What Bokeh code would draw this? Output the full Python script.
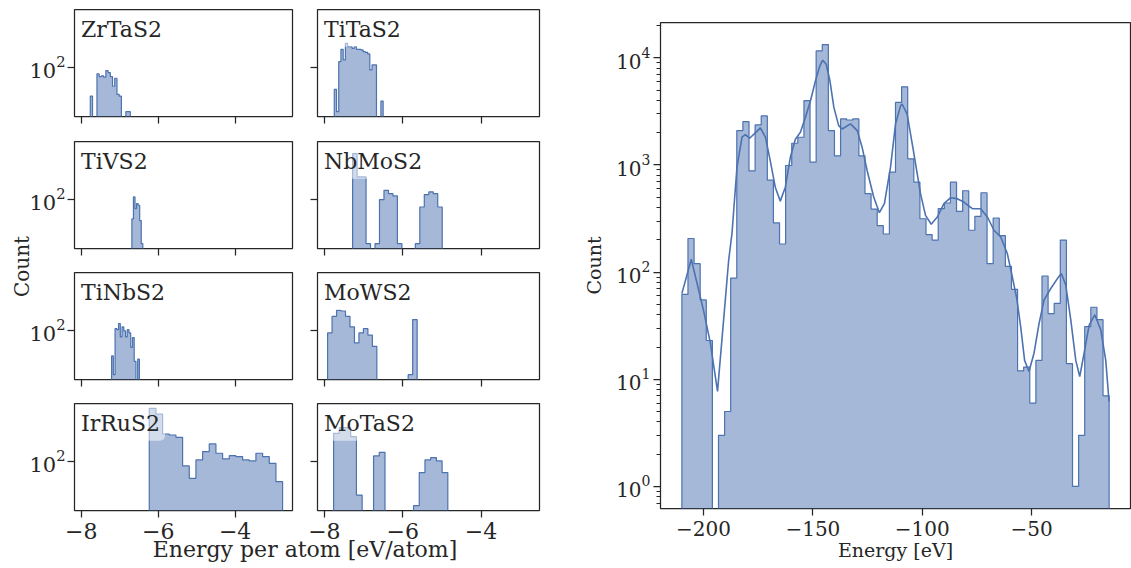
import numpy as np
from bokeh.plotting import figure
from bokeh.models import Range1d, FixedTicker, Label
from bokeh.layouts import row, column
from bokeh.embed import file_html
from bokeh.resources import INLINE

FONT = "DejaVu Serif"
INK = "#262626"
BLUE = "#4c72b0"

# ---------------- left: energy per atom, one histogram per system ----------------
systems = ["ZrTaS2", "TiTaS2", "TiVS2", "NbMoS2", "TiNbS2", "MoWS2", "IrRuS2", "MoTaS2"]
bin_lo = [-7.765, -7.747, -6.684, -7.279, -7.211, -7.918, -6.232, -7.765]
bin_hi = [-6.725, -6.500, -6.400, -4.992, -6.488, -5.632, -2.766, -4.849]
counts_ZrTaS2 = [5, 0, 0, 50, 38, 41, 36, 71, 58, 38, 14, 32, 6, 5, 0, 0, 1, 1]
counts_TiTaS2 = [10, 1, 180, 649, 214, 1208, 855, 855, 720, 855, 649, 649, 605, 509, 475, 400, 76, 128, 128, 0, 0, 3]
counts_TiVS2 = [13, 128, 38, 64, 54, 11, 1]
counts_NbMoS2 = [11400, 1016, 1016, 1, 0, 1, 97, 255, 180, 142, 1, 0, 0, 0, 1, 45, 163, 214, 180, 45]
counts_TiNbS2 = [7, 1, 119, 107, 200, 50, 142, 94, 50, 107, 76, 17, 47, 4, 0, 5]
counts_MoWS2 = [76, 428, 794, 741, 428, 142, 27, 76, 119, 60, 19, 0, 0, 0, 0, 0, 0, 0, 1, 303]
counts_IrRuS2 = [24400, 13500, 1706, 1538, 1208, 62, 17, 115, 273, 605, 230, 128, 180, 163, 115, 104, 230, 163, 81, 12]
counts_MoTaS2 = [1828, 3290, 3290, 1294, 3, 0, 0, 174, 255, 0, 0, 0, 0, 0, 1, 31, 115, 147, 104, 31]
sys_counts = [counts_ZrTaS2, counts_TiTaS2, counts_TiVS2, counts_NbMoS2,
              counts_TiNbS2, counts_MoWS2, counts_IrRuS2, counts_MoTaS2]
left_xticks = [-8, -6, -4]
left_yticks = [100]

# ---------------- right: total energy histogram + KDE ----------------
total_lo, total_hi = -209.9, -14.55
total_counts = [62, 206, 120, 55, 23, 0, 3, 5, 88, 2094,
                2540, 883, 2366, 2870, 722, 288, 183, 989, 1596, 1815,
                3981, 1062, 11610, 13300, 2094, 1218, 2690, 2630, 2690, 1218,
                540, 388, 272, 227, 857, 3840, 5370, 1142, 692, 315,
                224, 199, 391, 442, 692, 369, 575, 246, 331, 551,
                120, 320, 219, 113, 69, 12, 13, 6, 15, 92,
                41, 51, 199, 14, 1, 3, 31, 47, 36, 7]
kde_energy = [-209.9, -205.6, -200.0, -196.9, -193.6, -190.8, -188.5, -187.0, -184.7, -182.4,
              -180.9, -178.9, -176.8, -174.0, -171.7, -169.5, -167.2, -164.9, -162.6, -160.3,
              -158.0, -155.7, -153.4, -151.1, -148.8, -146.8, -145.5, -143.9, -142.2, -140.4,
              -138.2, -136.6, -132.8, -129.7, -127.5, -125.2, -122.2, -119.6, -117.3, -114.5,
              -112.2, -109.9, -109.2, -106.9, -103.8, -100.8, -98.5, -95.9, -93.1, -90.1,
              -87.0, -84.0, -81.0, -77.1, -73.3, -70.2, -67.2, -64.1, -61.1, -58.8,
              -56.8, -55.0, -53.2, -51.2, -48.9, -46.6, -44.3, -41.3, -38.2, -36.4,
              -34.4, -32.1, -29.8, -28.0, -26.0, -23.7, -21.1, -18.4, -16.1, -14.6]
kde_count = [63, 132, 44, 22, 7.7, 36, 129, 229, 955, 1817,
             1923, 1778, 1950, 2218, 1817, 1100, 621, 460, 621, 1180,
             1740, 2020, 2790, 3980, 6110, 8430, 9510, 8710, 6110, 3450,
             2330, 2170, 2420, 2094, 1466, 889, 502, 359, 436, 955,
             2420, 3575, 3710, 2990, 1270, 540, 339, 280, 327, 436,
             495, 485, 451, 391, 391, 327, 246, 213, 149, 90,
             57, 31, 15, 11.8, 17.5, 33, 55, 70, 87, 97,
             76, 36, 15, 10.6, 17.5, 32, 40, 29, 15, 6.2]
right_xticks = [-200, -150, -100, -50]
right_yticks = [1, 10, 100, 1000, 10000]


def minus(v):
    return str(v).replace("-", "\u2212")


def padded(lo, hi, frac=0.05):
    s = hi - lo
    return lo - frac * s, hi + frac * s


def step_outline(edges, counts, floor):
    xs, ys = [edges[0]], [floor]
    for i, c in enumerate(counts):
        v = c if c > 0 else floor
        xs += [edges[i], edges[i + 1]]
        ys += [v, v]
    xs.append(edges[-1])
    ys.append(floor)
    return xs, ys


def style(p, x_ticks, y_ticks, x_labels, y_labels, xfs, yfs, minor_y=None):
    p.outline_line_color = INK
    p.outline_line_width = 1.25
    p.xgrid.visible = False
    p.ygrid.visible = False
    p.background_fill_color = "white"
    xa, ya = p.xaxis[0], p.yaxis[0]
    for ax in (xa, ya):
        ax.axis_line_color = None
        ax.major_tick_line_color = INK
        ax.major_tick_line_width = 1.25
        ax.major_tick_out = 7
        ax.major_tick_in = 0
        ax.minor_tick_line_color = None
        ax.major_label_text_font = FONT
        ax.major_label_text_color = INK
        ax.axis_label_text_font = FONT
        ax.axis_label_text_color = INK
        ax.axis_label_text_font_style = "normal"
    xa.ticker = FixedTicker(ticks=x_ticks, minor_ticks=[])
    ya.ticker = FixedTicker(ticks=y_ticks, minor_ticks=minor_y or [])
    if minor_y:
        ya.minor_tick_line_color = INK
        ya.minor_tick_line_width = 1.0
        ya.minor_tick_out = 4
        ya.minor_tick_in = 0
    if x_labels:
        xa.major_label_overrides = {t: minus(t) for t in x_ticks}
        xa.major_label_text_font_size = xfs
    else:
        xa.major_label_overrides = {t: "" for t in x_ticks}
        xa.major_label_text_font_size = "0px"
    if y_labels:
        ya.major_label_text_font_size = yfs
    else:
        ya.major_label_overrides = {t: "" for t in y_ticks}
        ya.major_label_text_font_size = "0px"


def blank(p):
    p.grid.visible = False
    p.outline_line_color = None
    p.background_fill_alpha = 0
    p.border_fill_alpha = 0


# shared ranges for the small panels
lx = padded(min(bin_lo), max(bin_hi))
pos = [c for cs in sys_counts for c in cs if c > 0]
lly = padded(np.log10(min(pos)), np.log10(max(pos)))
ly = (10 ** lly[0], 10 ** lly[1])
floor_left = ly[0] * 1e-3

COL_W = [274, 260]
COL_BL = [44, 17]
COL_BR = [8, 21]
ROW_H = [129, 132, 131, 156]
ROW_BT = [9, 12, 11, 11]
ROW_BB = [13, 13, 13, 38]

grid_rows = []
for r in range(4):
    figs = []
    for c in range(2):
        k = 2 * r + c
        p = figure(width=COL_W[c], height=ROW_H[r], x_range=Range1d(*lx), y_range=Range1d(*ly),
                   y_axis_type="log", output_backend="svg", toolbar_location=None,
                   min_border_left=COL_BL[c], min_border_right=COL_BR[c],
                   min_border_top=ROW_BT[r], min_border_bottom=ROW_BB[r])
        p.border_fill_alpha = 0
        edges = np.linspace(bin_lo[k], bin_hi[k], len(sys_counts[k]) + 1)
        xs, ys = step_outline(edges, sys_counts[k], floor_left)
        p.patch(xs, ys, fill_color=BLUE, fill_alpha=0.5, line_color=None)
        p.line(xs, ys, line_color=BLUE, line_width=1.2)
        style(p, left_xticks, left_yticks, x_labels=(r == 3), y_labels=(c == 0),
              xfs="22px", yfs="21px")
        p.xaxis[0].major_label_standoff = 5
        p.yaxis[0].major_label_standoff = 2
        p.add_layout(Label(x=lx[0], y=ly[1], x_offset=1.5, y_offset=-19.7, text=systems[k],
                           text_font=FONT, text_font_size="22px", text_color=INK,
                           text_align="left", text_baseline="middle",
                           background_fill_color="white", background_fill_alpha=0.5,
                           border_line_color=None, padding=5, border_radius=5))
        figs.append(p)
    grid_rows.append(row(*figs))

# shared "Count" label for the small panels (its strip slides under the first column's border)
CH = sum(ROW_H)
CW = 36
count_fig = figure(width=CW, height=CH, x_range=Range1d(0, CW), y_range=Range1d(0, CH),
                   x_axis_location=None, y_axis_location=None, output_backend="svg",
                   toolbar_location=None, min_border_left=0, min_border_right=0,
                   min_border_top=0, min_border_bottom=0, margin=(0, -10, 0, 0))
blank(count_fig)
count_fig.add_layout(Label(x=21.1, y=CH - 266, text="Count", angle=np.pi / 2,
                           text_font=FONT, text_font_size="20px", text_color=INK,
                           text_align="center", text_baseline="middle"))

# shared x label for the small panels (its strip slides under the last row's border)
EH = 36
energy_fig = figure(width=560, height=EH, x_range=Range1d(0, 560), y_range=Range1d(0, EH),
                    x_axis_location=None, y_axis_location=None, output_backend="svg",
                    toolbar_location=None, min_border_left=0, min_border_right=0,
                    min_border_top=0, min_border_bottom=0, margin=(-16, 0, 0, 0))
blank(energy_fig)
energy_fig.add_layout(Label(x=304.5, y=18.9, text="Energy per atom [eV/atom]",
                            text_font=FONT, text_font_size="22px", text_color=INK,
                            text_align="center", text_baseline="middle"))

# ---------------- right panel ----------------
rx = padded(total_lo, total_hi)
rpos = [c for c in total_counts if c > 0]
rly = padded(np.log10(min(rpos)), np.log10(max(rpos)))
ry = (10 ** rly[0], 10 ** rly[1])
rp = figure(width=571, height=568, x_range=Range1d(*rx), y_range=Range1d(*ry),
            y_axis_type="log", output_backend="svg", toolbar_location=None,
            min_border_left=100, min_border_right=1, min_border_top=22, min_border_bottom=60)
rp.border_fill_color = "white"
tedges = np.linspace(total_lo, total_hi, len(total_counts) + 1)
xs, ys = step_outline(tedges, total_counts, ry[0] * 1e-3)
rp.patch(xs, ys, fill_color=BLUE, fill_alpha=0.5, line_color=None)
rp.line(xs, ys, line_color=BLUE, line_width=1.2)
rp.line(kde_energy, kde_count, line_color=BLUE, line_width=1.6)
minor = [m * 10.0 ** d for d in range(-1, 5) for m in range(2, 10)]
style(rp, right_xticks, right_yticks, x_labels=True, y_labels=True,
      xfs="20px", yfs="20px", minor_y=minor)
rp.xaxis[0].major_label_standoff = 5
rp.yaxis[0].major_label_standoff = 3
rp.xaxis[0].axis_label = "Energy [eV]"
rp.yaxis[0].axis_label = "Count"
rp.xaxis[0].axis_label_text_font_size = "19px"
rp.yaxis[0].axis_label_text_font_size = "19px"
rp.xaxis[0].axis_label_standoff = 0
rp.yaxis[0].axis_label_standoff = 8

left = column(row(count_fig, column(*grid_rows)), energy_fig)
p = row(left, rp)

open("out.html", "w").write(file_html(p, INLINE))
